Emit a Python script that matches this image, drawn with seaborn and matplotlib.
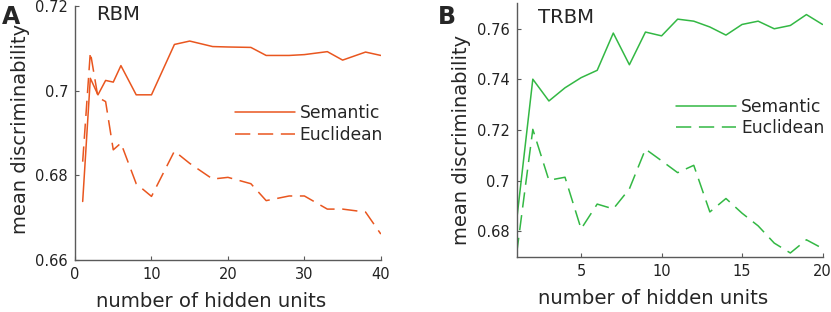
import numpy as np
import pandas as pd
import matplotlib
matplotlib.use('Agg')
import matplotlib.pyplot as plt
import seaborn as sns

# ---- data ----
units_rbm = [1, 2, 3, 4, 5, 6, 8, 10, 13, 15, 18, 20, 23, 25, 28, 30, 33, 35, 38, 40]
rbm_semantic = [0.6738, 0.7029, 0.6990, 0.7024, 0.7020, 0.7059, 0.6990, 0.6990, 0.7109, 0.7117,
                0.7104, 0.7103, 0.7102, 0.7083, 0.7083, 0.7085, 0.7092, 0.7072, 0.7091, 0.7083]
rbm_euclidean = [0.6832, 0.7091, 0.6984, 0.6974, 0.6860, 0.6876, 0.6780, 0.6750, 0.6857, 0.6828,
                 0.6791, 0.6795, 0.6780, 0.6740, 0.6751, 0.6751, 0.6720, 0.6720, 0.6713, 0.6661]

units_trbm = list(range(1, 21))
trbm_semantic = [0.6846, 0.7401, 0.7315, 0.7367, 0.7407, 0.7436, 0.7583, 0.7458, 0.7587, 0.7572,
                 0.7638, 0.7630, 0.7607, 0.7575, 0.7617, 0.7630, 0.7600, 0.7613, 0.7656, 0.7617]
trbm_euclidean = [0.6715, 0.7203, 0.7002, 0.7014, 0.6810, 0.6908, 0.6889, 0.6968, 0.7125, 0.7079,
                  0.7032, 0.7061, 0.6877, 0.6930, 0.6872, 0.6822, 0.6754, 0.6715, 0.6767, 0.6733]

orange = '#e9561f'
green = '#33b844'
spine_col = '#5a5a5a'

sns.set_style('ticks')
plt.rcParams['font.family'] = ['DejaVu Sans']


def long_df(x, sem, euc):
    return pd.DataFrame({
        'units': list(x) * 2,
        'value': list(sem) + list(euc),
        'metric': ['Semantic'] * len(sem) + ['Euclidean'] * len(euc),
    })


fig = plt.figure(figsize=(8.31, 3.12), dpi=100)
ax_a = fig.add_axes([0.0903, 0.167, 0.368, 0.814])
ax_b = fig.add_axes([0.6218, 0.177, 0.368, 0.812])

# axes, data, colour, title, title y, legend y, ylabel y, xlim, xticks, ylim, yticks, yticklabels
panels = [
    (ax_a, long_df(units_rbm, rbm_semantic, rbm_euclidean), orange, 'RBM', 1.004, 0.64, 0.515,
     (0, 40), [0, 10, 20, 30, 40], (0.66, 0.72), [0.66, 0.68, 0.70, 0.72], ['0.66', '0.68', '0.7', '0.72']),
    (ax_b, long_df(units_trbm, trbm_semantic, trbm_euclidean), green, 'TRBM', 0.981, 0.655, 0.46,
     (1, 20), [5, 10, 15, 20], (0.67, 0.77), [0.68, 0.70, 0.72, 0.74, 0.76], ['0.68', '0.7', '0.72', '0.74', '0.76']),
]

for ax, df, col, title, ty, ly, yly, xlim, xt, ylim, yt, ytl in panels:
    sns.lineplot(data=df, x='units', y='value', style='metric',
                 dashes={'Semantic': '', 'Euclidean': (10, 5)},
                 color=col, lw=1.1, ax=ax)
    ax.set_xlim(*xlim)
    ax.set_ylim(*ylim)
    ax.set_xticks(xt)
    ax.set_yticks(yt)
    ax.set_yticklabels(ytl)
    ax.tick_params(direction='in', length=3, color=spine_col, labelsize=10.5,
                   labelcolor='#222222', pad=5)
    for s in ['top', 'right']:
        ax.spines[s].set_visible(False)
    for s in ['left', 'bottom']:
        ax.spines[s].set_color(spine_col)
        ax.spines[s].set_linewidth(1.0)
    ax.set_xlabel('number of hidden units', fontsize=14.2, labelpad=7.5)
    ax.set_ylabel('mean discriminability', fontsize=14.0, labelpad=4)
    ax.xaxis.label.set_x(0.446)
    ax.yaxis.label.set_y(yly)
    ax.text(0.07, ty, title, transform=ax.transAxes, fontsize=14.2, va='top', ha='left')
    ax.legend(loc='upper left', bbox_to_anchor=(0.5, ly),
              frameon=False, fontsize=12.3, handlelength=3.5, handletextpad=0.3,
              labelspacing=0.2, borderaxespad=0)

fig.text(0.002, 0.985, 'A', fontsize=17, fontweight='bold', va='top', ha='left')
fig.text(0.527, 0.985, 'B', fontsize=17, fontweight='bold', va='top', ha='left')

fig.savefig('out.png', dpi=100)
